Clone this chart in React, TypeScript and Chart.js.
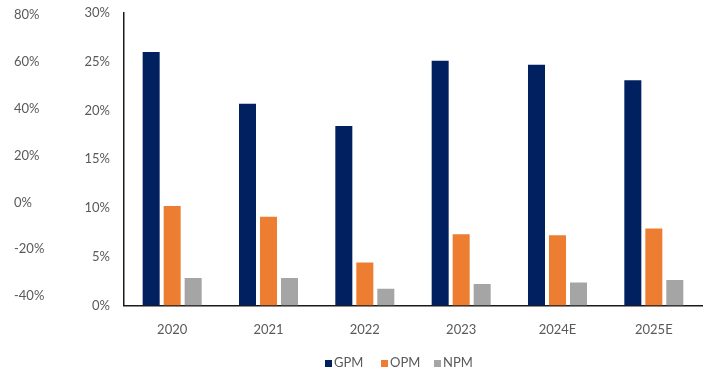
import React, { useEffect, useRef } from "react";
import { Chart, registerables } from "chart.js";

Chart.register(...registerables);

const categories = ["2020", "2021", "2022", "2023", "2024E", "2025E"];
const gpm = [26.0, 20.7, 18.4, 25.1, 24.7, 23.1];
const opm = [10.2, 9.1, 4.4, 7.3, 7.2, 7.9];
const npm = [2.8, 2.8, 1.7, 2.2, 2.35, 2.6];
const innerTicks = [0, 5, 10, 15, 20, 25, 30];
const outerTicks = [-40, -20, 0, 20, 40, 60, 80];
const seriesNames = ["GPM", "OPM", "NPM"];
const seriesColors = ["#002060", "#ED7D31", "#A5A5A5"];

const FONT = "Lato, 'Open Sans', sans-serif";
const TICK_COLOR = "#595959";

export default function App() {
  const ref = useRef<HTMLCanvasElement | null>(null);

  useEffect(() => {
    if (!ref.current) return;
    const chart = new Chart(ref.current, {
      type: "bar",
      data: {
        labels: categories,
        datasets: [gpm, opm, npm].map((d, i) => ({
          label: seriesNames[i],
          data: d,
          backgroundColor: seriesColors[i],
          borderWidth: 0,
          yAxisID: "y",
          categoryPercentage: 0.654,
          barPercentage: 0.81,
        })),
      },
      options: {
        animation: false,
        responsive: false,
        maintainAspectRatio: false,
        layout: { padding: { left: 14, right: 8, top: 13, bottom: 19 } },
        plugins: { legend: { display: false }, tooltip: { enabled: false } },
        scales: {
          x: {
            grid: { display: false, drawTicks: false },
            border: { display: true, color: "#1a1a1a", width: 1.5 },
            ticks: { color: TICK_COLOR, font: { family: FONT, size: 13 }, padding: 17 },
          },
          y: {
            position: "left",
            weight: 0,
            min: 0,
            max: 30,
            grid: { display: false, drawTicks: false },
            border: { display: true, color: "#1a1a1a", width: 1.5 },
            ticks: {
              color: TICK_COLOR,
              font: { family: FONT, size: 13 },
              padding: 14,
              callback: (v: any) => v + "%",
            },
            afterBuildTicks: (s: any) => {
              s.ticks = innerTicks.map((v) => ({ value: v }));
            },
            afterFit: (s: any) => {
              s.width = 44;
              s.paddingTop = 0;
              s.paddingBottom = 0;
            },
          },
          y2: {
            position: "left",
            weight: 1,
            min: -44,
            max: 80.85,
            grid: { display: false, drawTicks: false },
            border: { display: false },
            ticks: {
              color: TICK_COLOR,
              font: { family: FONT, size: 13 },
              crossAlign: "far",
              callback: (v: any) => v + "%",
            },
            afterBuildTicks: (s: any) => {
              s.ticks = outerTicks.map((v) => ({ value: v }));
            },
            afterFit: (s: any) => {
              s.width = 66;
              s.paddingTop = 0;
              s.paddingBottom = 0;
            },
          },
        },
      },
    });
    return () => chart.destroy();
  }, []);

  const legendX = [325, 381, 434];

  return (
    <div style={{ position: "fixed", left: 0, top: 0, width: 710, height: 374, background: "#fff" }}>
      <canvas ref={ref} width={710} height={374} style={{ display: "block" }} />
      {seriesNames.map((n, i) => (
        <div
          key={n}
          style={{
            position: "absolute",
            left: legendX[i],
            top: 354,
            display: "flex",
            alignItems: "center",
            fontFamily: FONT,
            fontSize: 13,
            color: TICK_COLOR,
            lineHeight: "16px",
          }}
        >
          <span style={{ display: "inline-block", width: 7, height: 7, background: seriesColors[i], marginRight: 2, marginTop: 2 }} />
          <span>{n}</span>
        </div>
      ))}
    </div>
  );
}
